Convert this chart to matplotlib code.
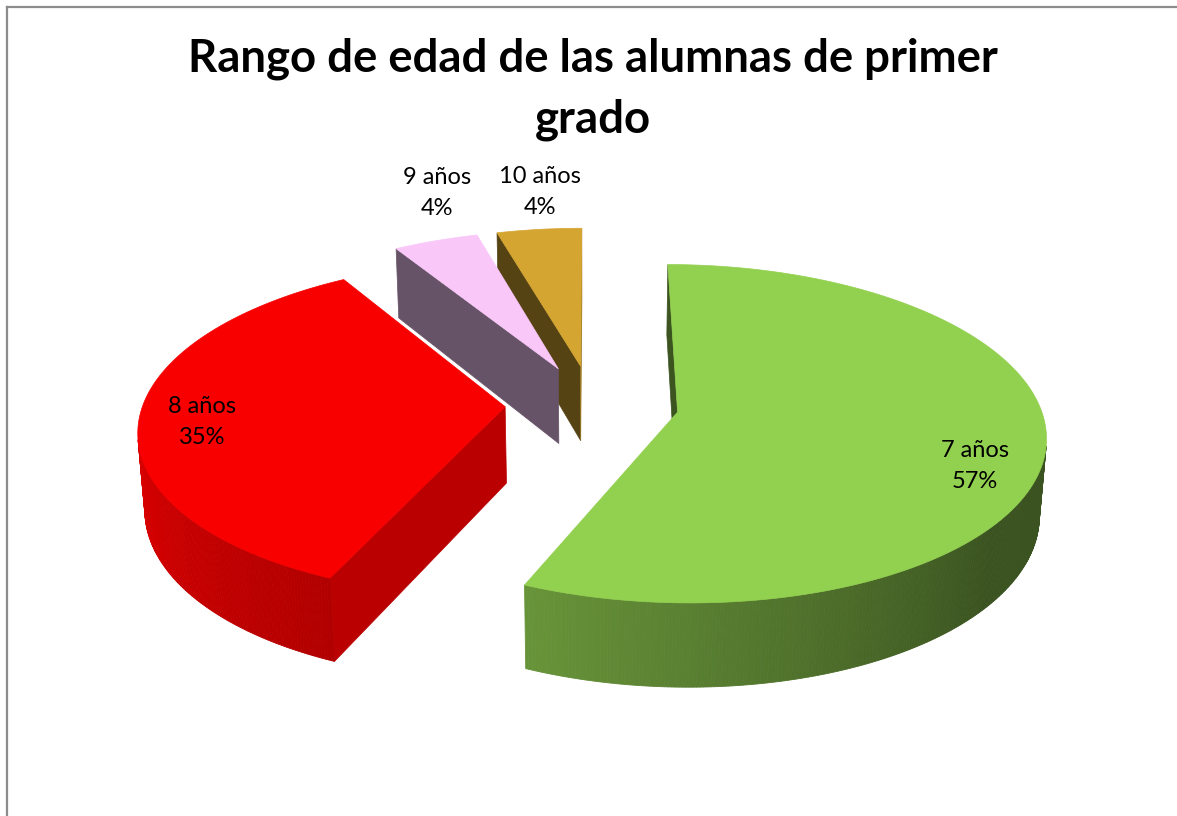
import numpy as np
import matplotlib.pyplot as plt
from matplotlib.patches import Polygon
from matplotlib.lines import Line2D

labels = ["7 años", "8 años", "9 años", "10 años"]
counts = [13, 8, 1, 1]
top_colors = ["#92d050", "#f80000", "#f9c8f9", "#d4a530"]
title = "Rango de edad de las alumnas de primer\ngrado"

W, H = 1177, 816

# camera / projection settings for the 3-D pie
elev = np.radians(27)
dist = 7.0
scale = 2534
x0, y0 = 592, 404
explode = 0.24
height = 0.24

cam = np.array([0.0, -dist * np.cos(elev), dist * np.sin(elev)])
fwd = np.array([0.0, np.cos(elev), -np.sin(elev)])
up = np.array([0.0, np.sin(elev), np.cos(elev)])
right = np.array([1.0, 0.0, 0.0])


def project(p):
    d = np.asarray(p) - cam
    zc = d @ fwd
    return x0 + scale * (d @ right) / zc, y0 - scale * (d @ up) / zc


def facing(normal, p):
    return np.dot(normal, cam - np.asarray(p)) > 0


def shade(color, f):
    c = np.array(plt.matplotlib.colors.to_rgb(color))
    return tuple(np.clip(c * f, 0, 1))


def rim_shade(theta):
    return np.interp(theta, [90, 130, 205, 270], [0.40, 0.40, 0.72, 0.91])


def side_shade(normal_angle):
    a = normal_angle % 360
    return np.interp(a, [90, 115, 240, 280], [0.75, 0.75, 0.41, 0.40])


fig = plt.figure(figsize=(W / 100, H / 100), dpi=100)
ax = fig.add_axes([0, 0, 1, 1])
ax.set_xlim(0, W)
ax.set_ylim(H, 0)
ax.axis("off")

total = sum(counts)
bounds = np.concatenate([[0], np.cumsum(counts)]) / total * 360

slices = []
for i in range(len(counts)):
    t0, t1 = bounds[i], bounds[i + 1]
    mid = np.radians((t0 + t1) / 2)
    off = np.array([explode * np.sin(mid), explode * np.cos(mid), 0.0])
    slices.append((off[1], i, t0, t1, off))

# far slices first
for _, i, t0, t1, off in sorted(slices, key=lambda s: -s[0]):
    col = top_colors[i]
    th = np.linspace(t0, t1, max(3, int((t1 - t0) * 2)))
    rad = np.radians(th)
    rim = np.stack([np.sin(rad), np.cos(rad), np.zeros_like(rad)], axis=1) + off
    drop = np.array([0, 0, -height])
    apex = off

    # radial walls
    for t, sgn in ((t0, -1), (t1, 1)):
        na = t + sgn * 90
        n = np.array([np.sin(np.radians(na)), np.cos(np.radians(na)), 0])
        e = off + np.array([np.sin(np.radians(t)), np.cos(np.radians(t)), 0])
        mid_pt = (apex + e) / 2 + drop / 2
        if facing(n, mid_pt):
            pts = [project(apex), project(e), project(e + drop), project(apex + drop)]
            c = shade(col, side_shade(na))
            ax.add_patch(Polygon(pts, closed=True, fc=c, ec=c, lw=0.5))

    # outer curved wall, drawn in thin strips
    for j in range(len(th) - 1):
        tm = np.radians((th[j] + th[j + 1]) / 2)
        n = np.array([np.sin(tm), np.cos(tm), 0])
        if facing(n, (rim[j] + rim[j + 1]) / 2 + drop / 2):
            pts = [project(rim[j]), project(rim[j + 1]),
                   project(rim[j + 1] + drop), project(rim[j] + drop)]
            c = shade(col, rim_shade((th[j] + th[j + 1]) / 2))
            ax.add_patch(Polygon(pts, closed=True, fc=c, ec=c, lw=0.6))

    # top face
    pts = [project(apex)] + [project(p) for p in rim]
    ax.add_patch(Polygon(pts, closed=True, fc=col, ec=col, lw=0.5))

# data labels
label_pos = [(975, 466), (202, 422), (437, 193), (540, 192)]
for i, (lx, ly) in enumerate(label_pos):
    pct = round(counts[i] / total * 100)
    ax.text(lx, ly, f"{labels[i]}\n{pct}%", ha="center", va="center",
            fontsize=17, family="Lato", linespacing=1.55, color="black")

ax.text(593, 89, title, ha="center", va="center", fontsize=32.8,
        family="Lato", fontweight="bold", linespacing=1.55)

# chart frame (left and top edges)
fig.add_artist(Line2D([6.5 / W, 6.5 / W], [0, 1 - 6.5 / H], color="#8c8c8c", lw=1.6))
fig.add_artist(Line2D([6.5 / W, 1], [1 - 6.5 / H, 1 - 6.5 / H], color="#8c8c8c", lw=1.6))

fig.savefig("out.png", dpi=100)
